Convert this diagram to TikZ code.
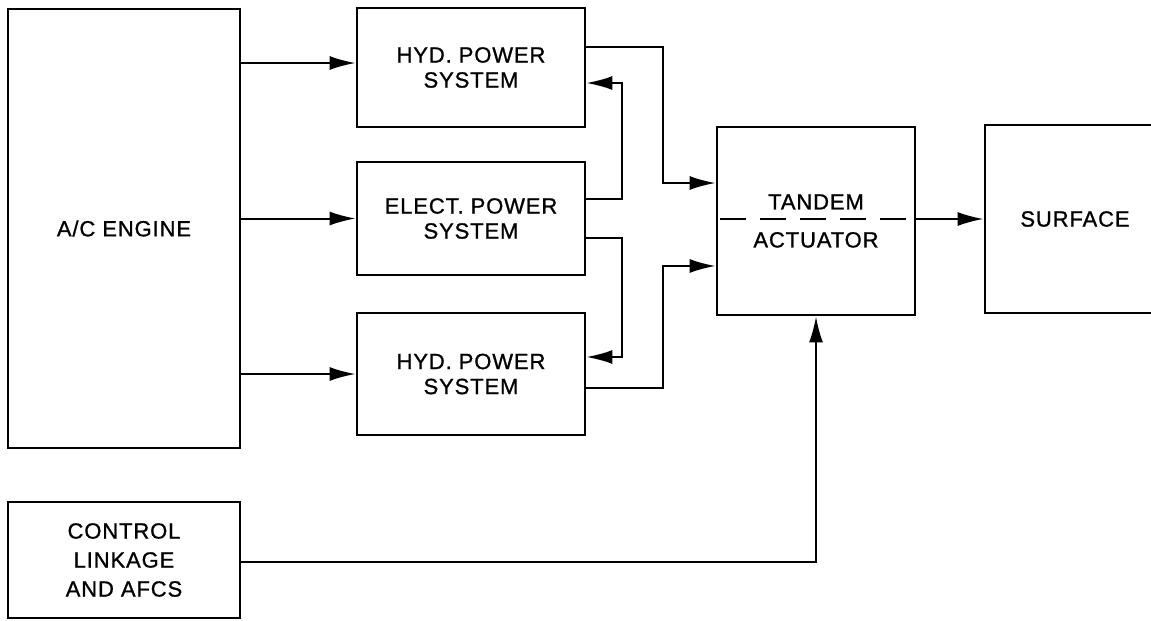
\documentclass[tikz,border=0pt]{standalone}
\usepackage{fontspec}
\setmainfont[LetterSpace=4,FakeBold=1]{Liberation Sans}
\usetikzlibrary{arrows.meta}

\tikzset{
 block/.style={draw, line width=2.8pt, inner sep=0pt, align=center,
  font=\fontsize{22}{25}\selectfont},
 arr/.style={line width=2pt, -{Latex[length=26pt,width=14pt]}},
 wire/.style={line width=2pt}
}

\begin{document}
\begin{tikzpicture}[x=1pt, y=-1pt]
\useasboundingbox (0,0) rectangle (1151,621);

% Blocks
\node[block, minimum width=232pt, minimum height=439pt] (engine) at (124,228.5) {A/C ENGINE};
\node[block, minimum width=228pt, minimum height=119pt] (hydA) at (471,67.5) {HYD. POWER\\SYSTEM};
\node[block, minimum width=228pt, minimum height=113pt] (elect) at (471,218.5) {ELECT. POWER\\SYSTEM};
\node[block, minimum width=228pt, minimum height=122pt] (hydB) at (471,374) {HYD. POWER\\SYSTEM};
\node[block, minimum width=198pt, minimum height=188pt] (tandem) at (816,221) {TANDEM\\[13pt]ACTUATOR};
\node[block, minimum width=180pt, minimum height=188pt] (surface) at (1075,219) {SURFACE};
\node[block, minimum width=232pt, minimum height=116pt,
 font=\fontsize{22}{29}\selectfont] (control) at (124,560) {CONTROL\\LINKAGE\\AND AFCS};

% Engine drives
\draw[arr] (engine.east |- 0,63) -- (hydA.west |- 0,63);
\draw[arr] (engine.east |- elect.west) -- (elect.west);
\draw[arr] (engine.east |- hydB.west) -- (hydB.west);

% Electric feed back to the hydraulic systems
\draw[arr] (elect.east |- 0,199) -- (622,199) -- (622,83) -- (hydA.east |- 0,83);
\draw[arr] (elect.east |- 0,238) -- (622,238) -- (622,357) -- (hydB.east |- 0,357);

% Hydraulic supply to the actuator
\draw[arr] (hydA.east |- 0,47) -- (663,47) -- (663,183) -- (tandem.west |- 0,183);
\draw[arr] (hydB.east |- 0,388) -- (663,388) -- (663,266) -- (tandem.west |- 0,266);

% Actuator split and output
\draw[wire, dash pattern=on 26pt off 14pt, dash phase=-4pt] (tandem.west |- 0,219) -- (tandem.east |- 0,219);
\draw[arr] (tandem.east |- 0,219) -- (surface.west |- 0,219);

% Control input
\draw[arr] (control.east |- 0,562) -| (tandem.south);
\end{tikzpicture}
\end{document}
